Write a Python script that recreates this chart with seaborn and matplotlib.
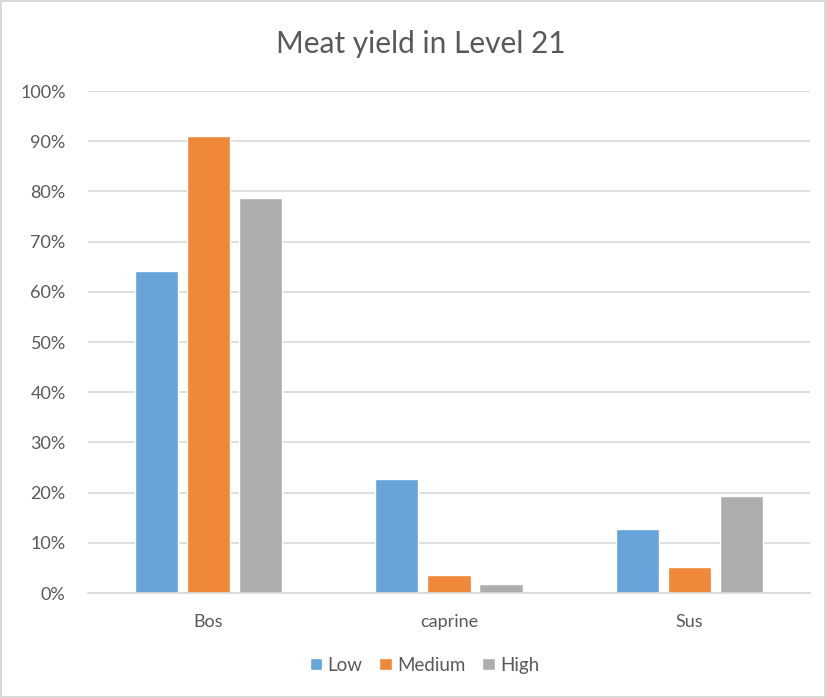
import pandas as pd
import matplotlib
matplotlib.use('Agg')
import matplotlib.pyplot as plt
import seaborn as sns
from matplotlib.ticker import PercentFormatter

# Data
animals = ['Bos', 'caprine', 'Sus']
levels = ['Low', 'Medium', 'High']
low_vals = [64.2, 22.8, 12.7]
medium_vals = [91.1, 3.5, 5.1]
high_vals = [78.7, 1.7, 19.3]

colors = ['#66A4DA', '#EF8838', '#ADADAD']
text_gray = '#595959'

rows = []
for series, vals in zip(levels, [low_vals, medium_vals, high_vals]):
    for a, v in zip(animals, vals):
        rows.append({'Animal': a, 'Level': series, 'Yield': v})
df = pd.DataFrame(rows)

sns.set_theme(style='white')
plt.rcParams['font.family'] = ['Lato', 'DejaVu Sans']

fig = plt.figure(figsize=(8.26, 6.98), dpi=100)
fig.patch.set_edgecolor('#D9D9D9')
fig.patch.set_linewidth(1.5)
ax = fig.add_axes([0.1065, 0.1504, 0.874, 0.7192])

sns.barplot(data=df, x='Animal', y='Yield', hue='Level', order=animals,
            hue_order=levels, palette=colors, width=0.65, gap=0.17,
            saturation=1, ax=ax, legend=True)

ax.set_ylim(0, 100)
ax.set_xlim(-0.5, 2.5)
ax.set_yticks(range(0, 101, 10))
ax.yaxis.set_major_formatter(PercentFormatter(decimals=0))
ax.yaxis.grid(True, color='#D9D9D9', linewidth=1.2)
ax.set_axisbelow(True)
for s in ['top', 'right', 'left']:
    ax.spines[s].set_visible(False)
ax.spines['bottom'].set_color('#D9D9D9')
ax.spines['bottom'].set_linewidth(1.2)
ax.tick_params(axis='both', length=0, labelsize=13, colors=text_gray)
ax.tick_params(axis='y', pad=16)
ax.tick_params(axis='x', pad=15)
ax.set_xlabel('')
ax.set_ylabel('')

handles, labels = ax.get_legend_handles_labels()
ax.get_legend().remove()
fig.legend(handles, labels, loc='center', bbox_to_anchor=(0.514, 0.047), ncol=3,
           frameon=False, fontsize=13.5, labelcolor=text_gray, handlelength=0.65,
           handleheight=0.65, handletextpad=0.3, columnspacing=0.9)

fig.suptitle('Meat yield in Level 21', x=0.51, y=0.957, fontsize=21.5, color=text_gray)

fig.savefig('out.png', dpi=100, edgecolor=fig.get_edgecolor())
